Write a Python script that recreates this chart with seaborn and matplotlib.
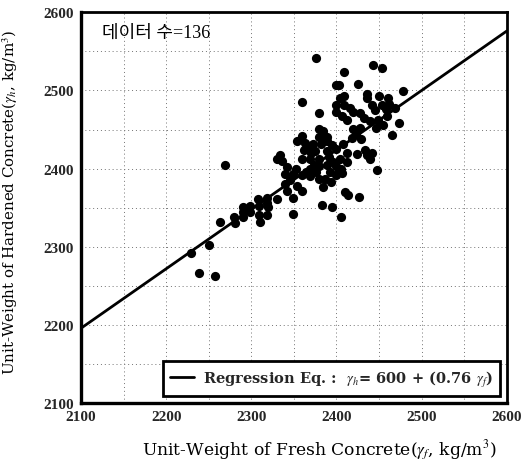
import matplotlib
matplotlib.use("Agg")
import matplotlib.pyplot as plt
from matplotlib.ticker import MultipleLocator
import numpy as np
import pandas as pd
import seaborn as sns

# Unit weight of fresh concrete (kg/m^3)
fresh = [
    2376, 2443, 2454, 2409, 2399, 2403, 2425, 2360, 2409, 2436,
    2436, 2450, 2478, 2442, 2454, 2462, 2400, 2409, 2469, 2380,
    2400, 2407, 2419, 2428, 2439, 2449, 2459, 2455, 2473, 2380,
    2465, 2419, 2428, 2359, 2380, 2389, 2418, 2429, 2354, 2363,
    2372, 2382, 2389, 2399, 2408, 2362, 2375, 2389, 2424, 2436,
    2442, 2439, 2334, 2330, 2359, 2369, 2380, 2391, 2404, 2412,
    2342, 2369, 2380, 2389, 2399, 2403, 2340, 2349, 2359, 2369,
    2379, 2387, 2394, 2399, 2406, 2340, 2342, 2360, 2349, 2330,
    2383, 2395, 2410, 2414, 2427, 2349, 2405, 2448, 2308, 2319,
    2299, 2290, 2309, 2320, 2309, 2319, 2290, 2280, 2281, 2263,
    2310, 2269, 2229, 2250, 2239, 2257,
    2404, 2445, 2458, 2432, 2413, 2423, 2385, 2368, 2395, 2353,
    2374, 2396, 2364, 2393, 2376, 2345, 2354, 2384, 2433, 2447,
    2413, 2318, 2299, 2460, 2416, 2370, 2405, 2336, 2290, 2384,
]

# Unit weight of hardened concrete (kg/m^3)
hardened = [
    2542, 2532, 2529, 2524, 2507, 2507, 2508, 2485, 2493, 2496,
    2490, 2493, 2499, 2481, 2482, 2483, 2482, 2482, 2477, 2471,
    2472, 2468, 2472, 2471, 2461, 2462, 2467, 2456, 2458, 2451,
    2443, 2451, 2452, 2442, 2441, 2441, 2439, 2438, 2435, 2433,
    2432, 2432, 2435, 2425, 2431, 2424, 2422, 2422, 2419, 2418,
    2420, 2412, 2417, 2412, 2412, 2412, 2412, 2415, 2412, 2408,
    2402, 2400, 2404, 2405, 2403, 2397, 2393, 2393, 2392, 2391,
    2387, 2387, 2383, 2392, 2395, 2380, 2371, 2371, 2362, 2361,
    2353, 2351, 2370, 2367, 2364, 2342, 2338, 2398, 2361, 2362,
    2352, 2351, 2352, 2351, 2341, 2341, 2338, 2338, 2331, 2332,
    2332, 2405, 2292, 2302, 2266, 2263,
    2490, 2475, 2476, 2465, 2462, 2445, 2437, 2427, 2430, 2400,
    2405, 2409, 2396, 2396, 2396, 2386, 2378, 2376, 2424, 2452,
    2420, 2356, 2345, 2490, 2478, 2420, 2400, 2410, 2345, 2448,
]

# Regression: gamma_h = 600 + 0.76 * gamma_f
intercept = 600
slope = 0.76
line_range = [2100, 2600]

axis_ticks = [2100, 2200, 2300, 2400, 2500, 2600]

sns.set_theme(style="white")
plt.rcParams["font.family"] = ["Liberation Serif", "Noto Sans CJK KR"]
plt.rcParams["mathtext.fontset"] = "stix"

df = pd.DataFrame({"fresh": fresh, "hardened": hardened})
line_x = np.array(line_range, dtype=float)
line_df = pd.DataFrame({"x": line_x, "y": intercept + slope * line_x})

fig = plt.figure(figsize=(5.22, 4.60), dpi=100)
ax = fig.add_axes([0.1552, 0.1211, 0.8155, 0.850])

sns.scatterplot(data=df, x="fresh", y="hardened", color="black", s=44,
                linewidth=0, ax=ax, zorder=3, legend=False)
sns.lineplot(data=line_df, x="x", y="y", color="black", linewidth=2.0,
             ax=ax, zorder=4,
             label=r"Regression Eq. :  $\boldsymbol{\gamma_h}$= 600 + (0.76 $\boldsymbol{\gamma_f}$)")

ax.set_xlim(2100, 2600)
ax.set_ylim(2100, 2600)
ax.set_xticks(axis_ticks)
ax.set_yticks(axis_ticks)
ax.xaxis.set_minor_locator(MultipleLocator(50))
ax.yaxis.set_minor_locator(MultipleLocator(50))
ax.grid(which="both", linestyle=(0, (1, 3)), color="0.45", linewidth=0.7)
ax.set_axisbelow(True)

for lab in ax.get_xticklabels() + ax.get_yticklabels():
    lab.set_fontweight("bold")
    lab.set_fontsize(11)
ax.tick_params(axis="both", which="major", direction="in", length=3,
               width=1, color="black", pad=5)
ax.tick_params(axis="both", which="minor", direction="in", length=2,
               width=0.8, color="black")

for side in ["left", "bottom"]:
    ax.spines[side].set_linewidth(2.4)
for side in ["top", "right"]:
    ax.spines[side].set_linewidth(2.0)
for sp in ax.spines.values():
    sp.set_color("black")

ax.set_xlabel(r"Unit-Weight of Fresh Concrete($\gamma_f$, kg/m$^3$)",
              fontsize=12.3, color="black", family=["DejaVu Serif"])
ax.set_ylabel(r"Unit-Weight of Hardened Concrete($\gamma_h$, kg/m$^3$)",
              fontsize=10.8, color="black", family=["DejaVu Serif"])
ax.xaxis.set_label_coords(0.56, -0.086)
ax.yaxis.set_label_coords(-0.143, 0.515)

ax.text(2125, 2574, f"데이터 수={len(fresh)}", fontsize=13, va="center",
        ha="left", color="black")

leg = ax.legend(loc="lower left", bbox_to_anchor=(0.193, 0.019, 0.791, 0.097),
                mode="expand", frameon=True, fancybox=False, framealpha=1,
                edgecolor="black",
                prop={"family": "DejaVu Serif", "weight": "bold", "size": 10.5},
                handlelength=1.6, handletextpad=0.6, borderpad=0.5,
                borderaxespad=0)
leg.get_frame().set_linewidth(2.0)

fig.savefig("out.png", dpi=100)
